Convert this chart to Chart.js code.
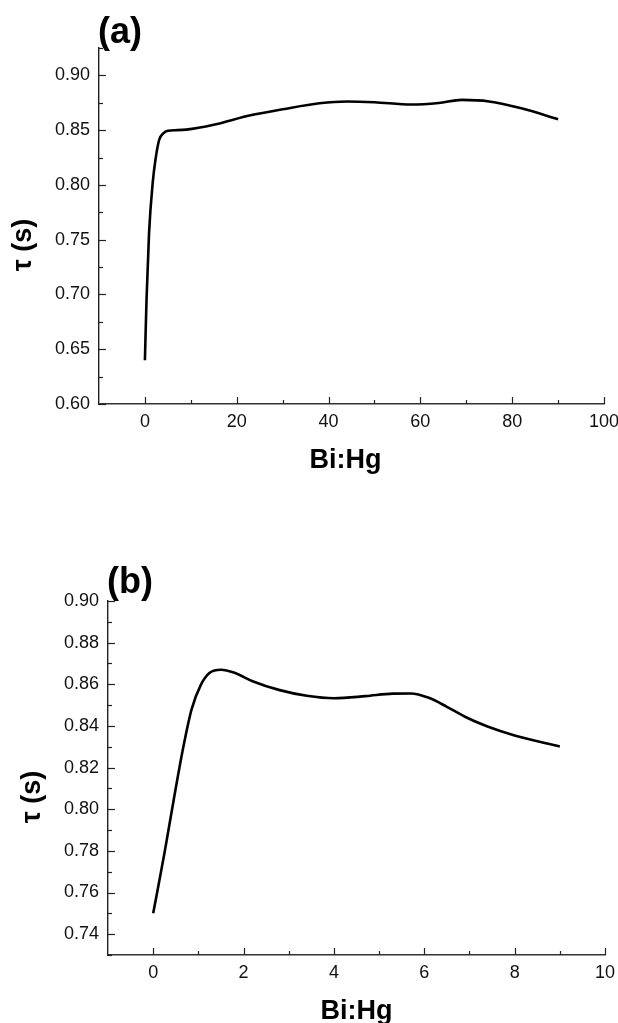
<!DOCTYPE html>
<html>
<head>
<meta charset="utf-8">
<title>τ vs Bi:Hg</title>
<script src="https://cdn.jsdelivr.net/npm/chart.js@4.4.1/dist/chart.umd.min.js"></script>
<style>
  html, body { margin: 0; padding: 0; background: #fff; }
  #wrap { position: relative; width: 618px; height: 1023px; }
  .panel { position: absolute; left: 0; width: 618px; }
  #panelA { top: 0; height: 510px; }
  #panelB { top: 510px; height: 513px; }
</style>
</head>
<body>
<div id="wrap">
  <div class="panel" id="panelA"><canvas id="chartA" width="618" height="510"></canvas></div>
  <div class="panel" id="panelB"><canvas id="chartB" width="618" height="513"></canvas></div>
</div>
<script>
// panel (a): full Bi:Hg range
const ratioA = [0, 0.35, 0.9, 1.7, 2.3, 3.1, 4, 5, 7, 9, 15, 23, 30, 38, 44, 50, 58, 64, 69, 75, 82, 90];
const tauA = [0.640, 0.695, 0.756, 0.802, 0.823, 0.841, 0.847, 0.8495, 0.850, 0.8505, 0.855, 0.8636, 0.869, 0.8745, 0.8762, 0.8755, 0.8734, 0.8748, 0.8776, 0.8762, 0.870, 0.860];
const xTicksA = [0, 20, 40, 60, 80, 100];
const xMinorA = [10, 30, 50, 70, 90];
const yTicksA = [0.60, 0.65, 0.70, 0.75, 0.80, 0.85, 0.90];
const yMinorA = [0.625, 0.675, 0.725, 0.775, 0.825, 0.875, 0.925];

// panel (b): low Bi:Hg range
const ratioB = [0, 0.25, 0.45, 0.65, 0.85, 1.05, 1.25, 1.5, 1.8, 2.2, 2.8, 3.4, 4.0, 4.7, 5.3, 5.7, 6.1, 6.5, 6.9, 7.4, 8.0, 9.0];
const tauB = [0.750, 0.779, 0.804, 0.828, 0.848, 0.8595, 0.8655, 0.867, 0.8655, 0.8615, 0.8572, 0.8545, 0.8533, 0.8543, 0.8555, 0.8556, 0.8535, 0.8492, 0.8444, 0.8397, 0.8354, 0.8301];
const xTicksB = [0, 2, 4, 6, 8, 10];
const xMinorB = [1, 3, 5, 7, 9];
const yTicksB = [0.74, 0.76, 0.78, 0.80, 0.82, 0.84, 0.86, 0.88, 0.90];
const yMinorB = [0.73, 0.75, 0.77, 0.79, 0.81, 0.83, 0.85, 0.87, 0.89];

const FONT = "'Liberation Sans', Arial, Helvetica, sans-serif";
Chart.defaults.font.family = FONT;
Chart.defaults.color = "#111";

// inward tick marks, panel letter and axis titles
const decorPlugin = {
  id: "decor",
  afterDraw(chart, args, o) {
    const { ctx, chartArea: area, scales } = chart;
    const sx = scales.x, sy = scales.y;
    ctx.save();
    ctx.strokeStyle = "#222";
    ctx.lineWidth = 1.2;
    const xMark = (vals, len) => vals.forEach(v => {
      const px = Math.round(sx.getPixelForValue(v)) + 0.5;
      ctx.beginPath();
      ctx.moveTo(px, area.bottom);
      ctx.lineTo(px, area.bottom - len);
      ctx.stroke();
    });
    const yMark = (vals, len) => vals.forEach(v => {
      const py = Math.round(sy.getPixelForValue(v)) + 0.5;
      ctx.beginPath();
      ctx.moveTo(area.left, py);
      ctx.lineTo(area.left + len, py);
      ctx.stroke();
    });
    xMark(o.xMajor, 7);
    xMark(o.xMinor, 4);
    yMark(o.yMajor, 7);
    yMark(o.yMinor, 4);

    ctx.fillStyle = "#000";
    ctx.font = "bold 36px " + FONT;
    ctx.textAlign = "left";
    ctx.textBaseline = "alphabetic";
    ctx.fillText(o.letter, area.left - 1, o.letterY);

    ctx.font = "bold 27px " + FONT;
    ctx.textAlign = "center";
    ctx.fillText("Bi:Hg", (area.left + area.right) / 2 + o.xTitleShift, area.bottom + 64);

    ctx.translate(area.left - 75, (area.top + area.bottom) / 2 + 19);
    ctx.rotate(-Math.PI / 2);
    ctx.textBaseline = "middle";
    ctx.fillText("τ (s)", 0, 0);
    ctx.restore();
  }
};

function makeChart(id, xs, ys, cfg) {
  const ctx = document.getElementById(id).getContext("2d");
  return new Chart(ctx, {
    type: "line",
    data: {
      datasets: [{
        data: xs.map((x, i) => ({ x: x, y: ys[i] })),
        borderColor: "#000",
        borderWidth: 2.6,
        pointRadius: 0,
        fill: false,
        cubicInterpolationMode: "monotone"
      }]
    },
    options: {
      responsive: false,
      animation: false,
      layout: {
        autoPadding: false,
        padding: { top: cfg.top, right: cfg.right, left: 0, bottom: 0 }
      },
      plugins: {
        legend: { display: false },
        tooltip: { enabled: false },
        decor: {
          xMajor: cfg.xTicks, xMinor: cfg.xMinor,
          yMajor: cfg.yTicks, yMinor: cfg.yMinor,
          letter: cfg.letter, letterY: cfg.letterY,
          xTitleShift: cfg.xTitleShift
        }
      },
      scales: {
        x: {
          type: "linear",
          min: cfg.xMin, max: cfg.xMax,
          bounds: "data",
          afterBuildTicks: (s) => { s.ticks = cfg.xTicks.map(v => ({ value: v })); },
          afterFit: (s) => {
            s.height = cfg.xHeight;
            // keep the end label overhang from shrinking the plot
            s.paddingLeft = 0;
            s.paddingRight = 0;
          },
          grid: { display: false, drawTicks: false },
          border: { display: true, color: "#333", width: 1.6 },
          ticks: { padding: 7, font: { size: 18 }, color: "#111", maxRotation: 0, autoSkip: false }
        },
        y: {
          min: cfg.yMin, max: cfg.yMax,
          bounds: "data",
          afterBuildTicks: (s) => { s.ticks = cfg.yTicks.map(v => ({ value: v })); },
          afterFit: (s) => {
            s.width = cfg.yWidth;
            s.paddingTop = 0;
            s.paddingBottom = 0;
          },
          grid: { display: false, drawTicks: false },
          border: { display: true, color: "#222", width: 1.4 },
          ticks: { padding: 9, font: { size: 18 }, color: "#111", autoSkip: false,
                   callback: (v) => Number(v).toFixed(2) }
        }
      }
    },
    plugins: [decorPlugin]
  });
}

makeChart("chartA", ratioA, tauA, {
  top: 48, right: 14, xHeight: 106, yWidth: 99,
  xMin: -10, xMax: 100, yMin: 0.60, yMax: 0.925,
  xTicks: xTicksA, xMinor: xMinorA, yTicks: yTicksA, yMinor: yMinorA,
  letter: "(a)", letterY: 43, xTitleShift: -6
});

makeChart("chartB", ratioB, tauB, {
  top: 91, right: 13, xHeight: 68, yWidth: 108,
  xMin: -1, xMax: 10, yMin: 0.73, yMax: 0.90,
  xTicks: xTicksB, xMinor: xMinorB, yTicks: yTicksB, yMinor: yMinorB,
  letter: "(b)", letterY: 83, xTitleShift: 0
});
</script>
</body>
</html>
